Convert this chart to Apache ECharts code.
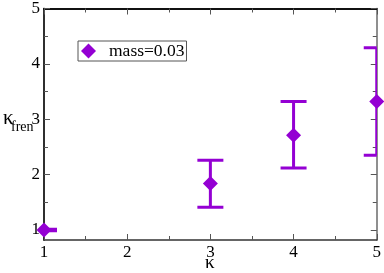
<!DOCTYPE html>
<html><head><meta charset="utf-8">
<script src="https://cdn.jsdelivr.net/npm/echarts@6/dist/echarts.min.js"></script>
<style>html,body{margin:0;padding:0;background:#fff}#c{width:384px;height:273px}</style>
</head><body><div id="c"></div>
<script>
var kappa = [1, 3, 4, 5];
var kfren = [1.0, 1.84, 2.71, 3.32];
var errLow = [0.985, 1.41, 2.12, 2.35];
var errHigh = [1.015, 2.26, 3.32, 4.29];
var seriesName = 'mass=0.03';
var xTicks = [1, 2, 3, 4, 5];
var yMajor = [1, 2, 3, 4, 5];
var yMinor = [1.5, 2.5, 3.5, 4.5];

var color = '#9400D3';
var font = 'Liberation Serif';
var yMin = 0.82, yMax = 5;

var chart = echarts.init(document.getElementById('c'), null, {renderer: 'canvas'});
var grid = {left: 44, right: 7, top: 7, bottom: 33};

function yAx(pos, ticks, len, showLabel, lineColor) {
  return {
    type: 'value', min: yMin, max: yMax, position: pos,
    axisLine: {show: true, onZero: false, lineStyle: {color: lineColor, width: 1.5}},
    axisTick: {show: true, inside: true, length: len, customValues: ticks, lineStyle: {color: '#555', width: 1}},
    axisLabel: {show: showLabel, customValues: yMajor, fontFamily: font, fontSize: 17, color: '#000', margin: 4},
    splitLine: {show: false}
  };
}
var option = {
  animation: false,
  grid: grid,
  legend: {
    left: 78, top: 41, orient: 'horizontal',
    data: [{name: seriesName, icon: 'diamond', itemStyle: {color: color, opacity: 1}}],
    itemWidth: 15, itemHeight: 15, itemGap: 4,
    padding: [1, 2, 1, 3],
    borderColor: '#555', borderWidth: 1,
    textStyle: {fontFamily: font, fontSize: 17.5, color: '#000', padding: [0, 0, 0, 8]}
  },
  xAxis: [
    {type: 'value', min: 1, max: 5, interval: 1, position: 'bottom',
     axisLine: {show: true, onZero: false, lineStyle: {color: '#333', width: 1.5}},
     axisTick: {show: true, inside: true, length: 6, lineStyle: {color: '#555'}},
     minorTick: {show: true, splitNumber: 2, length: 4, lineStyle: {color: '#555'}},
     axisLabel: {fontFamily: font, fontSize: 17, color: '#000', margin: 4},
     splitLine: {show: false}, minorSplitLine: {show: false}},
    {type: 'value', min: 1, max: 5, interval: 1, position: 'top',
     axisLine: {show: true, onZero: false, lineStyle: {color: '#111', width: 2}},
     axisTick: {show: true, inside: true, length: 6, lineStyle: {color: '#555'}},
     minorTick: {show: true, splitNumber: 2, length: 4, lineStyle: {color: '#555'}},
     axisLabel: {show: false},
     splitLine: {show: false}, minorSplitLine: {show: false}}
  ],
  yAxis: [
    yAx('left', yMajor, 6, true, '#222'),
    yAx('left', yMinor, 4, false, '#222'),
    yAx('right', yMajor, 6, false, '#888'),
    yAx('right', yMinor, 4, false, '#888')
  ],
  graphic: [
    {type: 'text', left: 3, top: 108, z: 10, style: {
      text: 'κ', fill: '#000', fontFamily: font, fontSize: 21}},
    {type: 'text', left: 11, top: 120, z: 10, style: {
      text: 'fren', fill: '#000', fontFamily: font, fontSize: 14}},
    {type: 'text', left: 205, top: 254, z: 10, style: {
      text: 'κ', fill: '#000', fontFamily: font, fontSize: 19}}
  ],
  series: [
    {
      type: 'custom', name: 'err', xAxisIndex: 0, yAxisIndex: 0, clip: true, z: 3,
      data: kappa.map(function (k, i) { return [k, errLow[i], errHigh[i]]; }),
      renderItem: function (params, api) {
        var cs = params.coordSys;
        var x = api.coord([api.value(0), api.value(1)])[0];
        var yl = api.coord([api.value(0), api.value(1)])[1];
        var yh = api.coord([api.value(0), api.value(2)])[1];
        var hw = 13;
        var x0 = Math.max(cs.x, x - hw), x1 = Math.min(cs.x + cs.width, x + hw);
        var st = {stroke: color, lineWidth: 3};
        return {type: 'group', children: [
          {type: 'line', shape: {x1: x, y1: yl, x2: x, y2: yh}, style: st},
          {type: 'line', shape: {x1: x0, y1: yl, x2: x1, y2: yl}, style: st},
          {type: 'line', shape: {x1: x0, y1: yh, x2: x1, y2: yh}, style: st}
        ]};
      }
    },
    {
      type: 'scatter', name: seriesName, xAxisIndex: 0, yAxisIndex: 0, clip: false, z: 4,
      symbol: 'diamond', symbolSize: 15,
      itemStyle: {color: color, opacity: 1},
      data: kappa.map(function (k, i) { return [k, kfren[i]]; })
    }
  ]
};
chart.setOption(option);
</script></body></html>
